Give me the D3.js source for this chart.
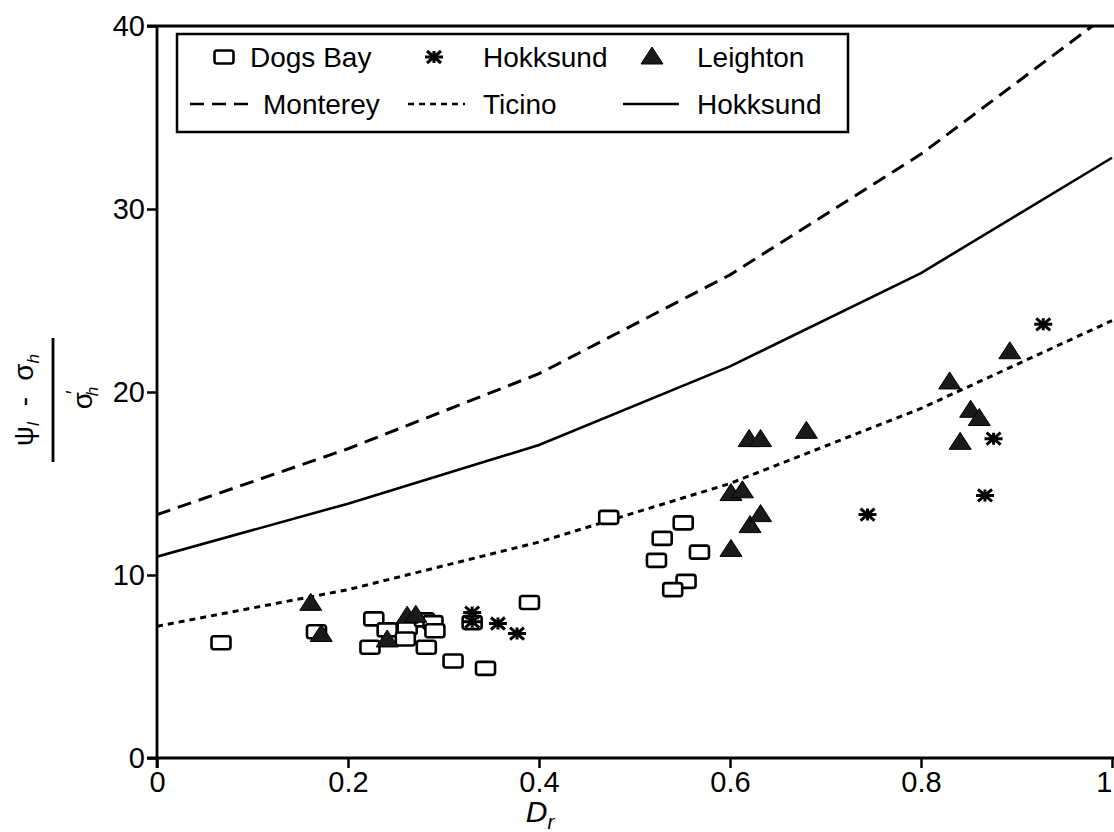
<!DOCTYPE html>
<html>
<head>
<meta charset="utf-8">
<script src="https://cdn.jsdelivr.net/npm/d3@7"></script>
<style>
  body { margin: 0; background: #fff; }
  svg { display: block; }
  text { font-family: "Liberation Sans", Arial, sans-serif; fill: #000; }
</style>
</head>
<body>
<div id="chart"></div>
<script>
// Data
const curveX = [0, 0.2, 0.4, 0.6, 0.8, 1.0];
const montereyY = [13.3, 16.9, 21.0, 26.4, 33.0, 40.8];
const ticinoY = [7.2, 9.2, 11.8, 15.0, 19.1, 23.9];
const hokksundCurveY = [11.0, 13.9, 17.1, 21.4, 26.5, 32.8];

const dogsBayX = [0.067, 0.167, 0.227, 0.241, 0.223, 0.262, 0.260, 0.280, 0.289, 0.291, 0.282, 0.310, 0.344, 0.390, 0.330,
  0.473, 0.551, 0.529, 0.523, 0.568, 0.554, 0.540];
const dogsBayY = [6.3, 6.9, 7.6, 7.0, 6.05, 7.1, 6.5, 7.55, 7.4, 6.95, 6.05, 5.3, 4.9, 8.5, 7.4,
  13.15, 12.85, 12.0, 10.8, 11.25, 9.65, 9.2];

const hokksundX = [0.330, 0.330, 0.357, 0.377, 0.744, 0.867, 0.876, 0.928];
const hokksundY = [7.95, 7.45, 7.35, 6.8, 13.3, 14.35, 17.45, 23.7];

const leightonX = [0.161, 0.172, 0.241, 0.262, 0.271, 0.601, 0.601, 0.613, 0.621, 0.632, 0.620, 0.632, 0.680,
  0.830, 0.841, 0.852, 0.861, 0.893];
const leightonY = [8.45, 6.75, 6.45, 7.75, 7.8, 11.4, 14.45, 14.6, 12.7, 13.3, 17.4, 17.4, 17.85,
  20.55, 17.25, 19.0, 18.55, 22.2];

const xTicks = [0, 0.2, 0.4, 0.6, 0.8, 1];
const yTicks = [0, 10, 20, 30, 40];

const width = 1114, height = 832;
const svg = d3.select("#chart").append("svg")
  .attr("width", width).attr("height", height);

const x = d3.scaleLinear().domain([0, 1]).range([157, 1112]);
const y = d3.scaleLinear().domain([0, 40]).range([758, 26]);

svg.append("clipPath").attr("id", "plot")
  .append("rect").attr("x", 157).attr("y", 26).attr("width", width - 157).attr("height", 732);

// Axes
const yAxis = svg.append("g").attr("transform", `translate(${x(0)},0)`)
  .call(d3.axisLeft(y).tickValues(yTicks).tickSize(10).tickPadding(2).tickSizeOuter(0));
yAxis.select(".domain").remove();
yAxis.selectAll("line").attr("stroke-width", 2.5);
yAxis.selectAll("text").style("font-size", "29px").attr("font-family", "Liberation Sans, Arial, sans-serif");

const xAxis = svg.append("g").attr("transform", `translate(0,${y(0)})`)
  .call(d3.axisBottom(x).tickValues(xTicks).tickSize(10).tickPadding(3)
    .tickFormat(d => d === 0 ? "0" : d === 1 ? "1" : d.toFixed(1)));
xAxis.select(".domain").remove();
xAxis.selectAll("line").attr("stroke-width", 2.5);
xAxis.selectAll("text").style("font-size", "29px").attr("font-family", "Liberation Sans, Arial, sans-serif")
  .attr("text-anchor", d => d === 1 ? "end" : "middle");

// frame lines
svg.append("line").attr("x1", x(0)).attr("x2", x(0)).attr("y1", y(40)).attr("y2", y(0) + 10)
  .attr("stroke", "#000").attr("stroke-width", 2.8);
svg.append("line").attr("x1", x(0) - 10).attr("x2", width).attr("y1", y(0)).attr("y2", y(0))
  .attr("stroke", "#000").attr("stroke-width", 2.8);
svg.append("line").attr("x1", x(0) - 10).attr("x2", width).attr("y1", y(40)).attr("y2", y(40))
  .attr("stroke", "#000").attr("stroke-width", 2.8);

// Curves
const line = d3.line().x(d => x(d[0])).y(d => y(d[1]));
const curves = [
  { vals: montereyY, dash: "14,8", w: 3 },
  { vals: ticinoY, dash: "6,5", w: 3 },
  { vals: hokksundCurveY, dash: null, w: 2.6 }
];
const gc = svg.append("g").attr("clip-path", "url(#plot)");
curves.forEach(c => {
  gc.append("path")
    .attr("d", line(curveX.map((v, i) => [v, c.vals[i]])))
    .attr("fill", "none").attr("stroke", "#000")
    .attr("stroke-width", c.w)
    .attr("stroke-dasharray", c.dash);
});

// Marker helpers
function drawSquare(g, cx, cy) {
  g.append("rect").attr("x", cx - 9.5).attr("y", cy - 6.5).attr("width", 19).attr("height", 13)
    .attr("rx", 2.5).attr("fill", "#fff").attr("stroke", "#000").attr("stroke-width", 2.6);
}
function drawStar(g, cx, cy) {
  const p = `M${cx - 9},${cy}H${cx + 9}M${cx - 7},${cy - 6}L${cx + 7},${cy + 6}M${cx - 7},${cy + 6}L${cx + 7},${cy - 6}M${cx},${cy - 6}V${cy + 6}`;
  g.append("path").attr("d", p).attr("stroke", "#000").attr("stroke-width", 3).attr("fill", "none");
}
function drawTriangle(g, cx, cy) {
  const p = `M${cx},${cy - 10}L${cx + 11},${cy + 7}L${cx - 11},${cy + 7}Z`;
  g.append("path").attr("d", p).attr("fill", "#1a1a1a").attr("stroke", "#000").attr("stroke-width", 1);
}

const gp = svg.append("g");
dogsBayX.forEach((v, i) => drawSquare(gp, x(v), y(dogsBayY[i])));
leightonX.forEach((v, i) => drawTriangle(gp, x(v), y(leightonY[i])));
hokksundX.forEach((v, i) => drawStar(gp, x(v), y(hokksundY[i])));

// Legend
const lg = svg.append("g");
lg.append("rect").attr("x", 177).attr("y", 34).attr("width", 671).attr("height", 98)
  .attr("fill", "#fff").attr("stroke", "#000").attr("stroke-width", 2.5);
const row1 = 57, row2 = 104;
drawSquare(lg, 224, row1);
drawStar(lg, 434, row1);
drawTriangle(lg, 652, row1);
[["Dogs Bay", 250, row1], ["Hokksund", 483, row1], ["Leighton", 697, row1],
 ["Monterey", 263, row2], ["Ticino", 483, row2], ["Hokksund", 697, row2]].forEach(t => {
  lg.append("text").attr("x", t[1]).attr("y", t[2] + 10).style("font-size", "28px").text(t[0]);
});
[[190, 249, "14,8"], [408, 465, "6,5"], [623, 679, null]].forEach(s => {
  lg.append("line").attr("x1", s[0]).attr("x2", s[1]).attr("y1", row2).attr("y2", row2)
    .attr("stroke", "#000").attr("stroke-width", 2.6).attr("stroke-dasharray", s[2]);
});

// Y label (rotated fraction)
const yl = svg.append("g").attr("transform", "translate(0,400) rotate(-90)");
const num = yl.append("text").attr("x", 0).attr("y", 33).attr("text-anchor", "middle")
  .style("font-size", "28px").attr("font-family", "Liberation Serif, Times, serif");
num.append("tspan").text("ψ");
num.append("tspan").attr("font-style", "italic").attr("font-size", "17px").attr("dy", 6).text("l");
num.append("tspan").attr("dy", -6).attr("dx", 16).attr("font-family", "Liberation Sans, Arial").text("-");
num.append("tspan").attr("dx", 16).text("σ");
num.append("tspan").attr("font-style", "italic").attr("font-size", "17px").attr("dy", 6).text("h");
yl.append("line").attr("x1", -62).attr("x2", 62).attr("y1", 53).attr("y2", 53)
  .attr("stroke", "#000").attr("stroke-width", 2.8);
const den = yl.append("text").attr("x", 2).attr("y", 92).attr("text-anchor", "middle")
  .style("font-size", "28px").attr("font-family", "Liberation Serif, Times, serif");
den.append("tspan").text("σ");
den.append("tspan").attr("font-size", "20px").attr("dy", -12).attr("dx", -2).text("′");
den.append("tspan").attr("font-style", "italic").attr("font-size", "17px").attr("dy", 18).attr("dx", -6).text("h");

// X label
const xl = svg.append("text").attr("x", 540).attr("y", 822).attr("text-anchor", "middle")
  .attr("font-family", "Liberation Serif, Times, serif").style("font-size", "30px").attr("font-style", "italic");
xl.append("tspan").text("D");
xl.append("tspan").attr("font-size", "20px").attr("dy", 7).text("r");
</script>
</body>
</html>
